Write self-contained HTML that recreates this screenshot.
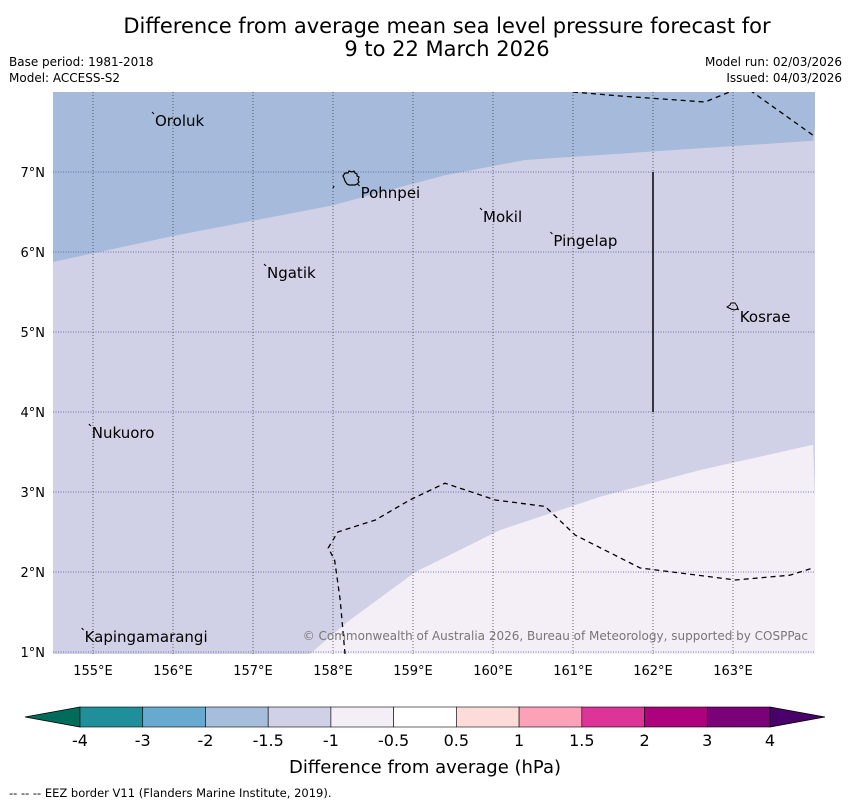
<!DOCTYPE html>
<html><head><meta charset="utf-8"><style>
body{margin:0;background:#fff;font-family:"DejaVu Sans","Liberation Sans",sans-serif;}
svg{display:block}
</style></head><body>
<svg width="850" height="804" xmlns="http://www.w3.org/2000/svg" font-family="DejaVu Sans, Liberation Sans, sans-serif">
<text x="447" y="33" font-size="21" text-anchor="middle">Difference from average mean sea level pressure forecast for</text>
<text x="447" y="56" font-size="21" text-anchor="middle">9 to 22 March 2026</text>
<text x="9" y="66" font-size="12">Base period: 1981-2018</text>
<text x="9" y="82" font-size="12">Model: ACCESS-S2</text>
<text x="842" y="66" font-size="12" text-anchor="end">Model run: 02/03/2026</text>
<text x="842" y="82" font-size="12" text-anchor="end">Issued: 04/03/2026</text>
<defs><clipPath id="mc"><rect x="53" y="92" width="762" height="562"/></clipPath></defs>
<g id="map" clip-path="url(#mc)"></g>
<g id="axes"></g>
<g id="cbar"></g>
<text x="425" y="773" font-size="18" text-anchor="middle">Difference from average (hPa)</text>
<text x="9" y="797" font-size="11.5">--  --  -- EEZ border V11 (Flanders Marine Institute, 2019).</text>
<script>
const lonTicks=[155,156,157,158,159,160,161,162,163];
const latTicks=[1,2,3,4,5,6,7];
const boundaryBlueLon=[154.5,156.0,157.96,159.4,160.4,164.0];
const boundaryBlueLat=[5.875,6.2,6.575,6.96,7.15,7.39];
const boundaryPaleLon=[157.71,158.21,159.03,160.09,161.34,162.59,164.0];
const boundaryPaleLat=[0.975,1.4,2.0,2.525,2.94,3.275,3.59];
const eezTopLon=[161.0,161.59,162.65,163.03,163.2,164.0];
const eezTopLat=[8.0,7.95,7.875,8.03,8.03,7.46];
const eezBotLon=[158.15,158.09,158.02,157.94,158.06,158.53,158.96,159.4,160.03,160.65,161.03,161.84,163.03,163.71,164.0];
const eezBotLat=[0.975,1.65,2.15,2.3,2.5,2.65,2.9,3.11,2.9,2.82,2.46,2.05,1.9,1.96,2.05];
const places=["Oroluk","Pohnpei","Mokil","Pingelap","Ngatik","Kosrae","Nukuoro","Kapingamarangi"];
const placeLon=[155.75,158.32,159.85,160.73,157.15,163.06,154.96,154.87];
const placeLat=[7.65,6.75,6.45,6.15,5.75,5.2,3.75,1.2];
const cbLabels=["-4","-3","-2","-1.5","-1","-0.5","0.5","1","1.5","2","3","4"];
const cbColors=["#1f9099","#67a9cf","#a6bddb","#d0d1e6","#f4eef7","#ffffff","#fddbd9","#fba2b9","#dd3497","#ae017e","#7a0177"];
const NS="http://www.w3.org/2000/svg";
const X=lon=>53+(lon-154.5)*80;
const Y=lat=>92+(8-lat)*80;
function mk(p,t,a){const e=document.createElementNS(NS,t);for(const k in a)e.setAttribute(k,a[k]);p.appendChild(e);return e;}
const map=document.getElementById('map'),axes=document.getElementById('axes'),cb=document.getElementById('cbar');
let r=mk(map,'rect',{x:53,y:92,width:762,height:562,fill:'#d0d1e6'});


let d='M'+X(154.5)+','+Y(8.1)+' '+boundaryBlueLon.map((l,i)=>'L'+X(l)+','+Y(boundaryBlueLat[i])).join(' ')+' L'+X(164.1)+','+Y(8.1)+'Z';
let p=mk(map,'path',{d:d,fill:'#a6bbdb'});


d='M'+boundaryPaleLon.map((l,i)=>X(l)+','+Y(boundaryPaleLat[i])).join(' L')+' L'+X(164.1)+','+Y(0.9)+' L'+X(157.7)+','+Y(0.9)+'Z';
p=mk(map,'path',{d:d,fill:'#f4eef6'});


lonTicks.forEach(l=>{const g=mk(map,'line',{x1:X(l),x2:X(l),y1:92,y2:654,stroke:'#444',"stroke-width":0.8,"stroke-dasharray":"1,2"});

});
latTicks.forEach(l=>{const g=mk(map,'line',{x1:53,x2:815,y1:Y(l),y2:Y(l),stroke:'#44559a',"stroke-width":0.8,"stroke-dasharray":"1,1.5"});

});
[[eezTopLon,eezTopLat],[eezBotLon,eezBotLat]].forEach(([a,b])=>{const e=mk(map,'polyline',{points:a.map((l,i)=>X(l)+','+Y(b[i])).join(' '),fill:'none',stroke:'#000',"stroke-width":1.3,"stroke-dasharray":"5,4"});

});
let v=mk(map,'line',{x1:X(162),x2:X(162),y1:Y(7),y2:Y(4),stroke:'#000',"stroke-width":1.5});


let isl=mk(map,'path',{d:'M343,176 l2,-3 l3,0 l1,-2 l3,1 l2,-1 l1,2 l2,1 l0,2 l2,1 l-1,3 l1,2 l-2,2 l-2,1 l-3,0 l-3,0 l-2,-1 l-2,-3 l-1,-3z M333,188 l1,-2',fill:'none',stroke:'#000',"stroke-width":1.2});


isl=mk(map,'path',{d:'M727,307 l3,-2 l1,-2 l4,0 l2,3 l1,3 l-4,1 l-3,-1z',fill:'none',stroke:'#000',"stroke-width":1});


places.forEach((n,i)=>{const mx=X(placeLon[i]),my=Y(placeLat[i]);
const m=mk(map,'line',{x1:mx-1,y1:my-8,x2:mx+1,y2:my-6,stroke:'#000',"stroke-width":1});


const t=mk(map,'text',{x:mx+2,y:my+6,"font-size":15});t.textContent=n;

});
let c=mk(map,'text',{x:808,y:640,"font-size":12,fill:'#777',"text-anchor":'end'});c.textContent='© Commonwealth of Australia 2026, Bureau of Meteorology, supported by COSPPac';


lonTicks.forEach(l=>{const t=mk(axes,'text',{x:X(l),y:675,"font-size":13,"text-anchor":'middle'});t.textContent=l+'°E';

});
latTicks.forEach(l=>{const t=mk(axes,'text',{x:45,y:Y(l)+5,"font-size":13,"text-anchor":'end'});t.textContent=l+'°N';

});
const cx0=80,cx1=770,cy=707,ch=20,w=(cx1-cx0)/cbColors.length;
let tri=mk(cb,'path',{d:`M${cx0},${cy} L25,${cy+ch/2} L${cx0},${cy+ch}Z`,fill:'#016c59',stroke:'#000',"stroke-width":0.8});


tri=mk(cb,'path',{d:`M${cx1},${cy} L825,${cy+ch/2} L${cx1},${cy+ch}Z`,fill:'#49006a',stroke:'#000',"stroke-width":0.8});


cbColors.forEach((col,i)=>{const b=mk(cb,'rect',{x:cx0+i*w,y:cy,width:w,height:ch,fill:col,stroke:'#000',"stroke-width":0.6});

});
cbLabels.forEach((s,i)=>{const t=mk(cb,'text',{x:cx0+i*w,y:746,"font-size":16,"text-anchor":'middle'});t.textContent=s;

});
</script>
</svg>
</body></html>
